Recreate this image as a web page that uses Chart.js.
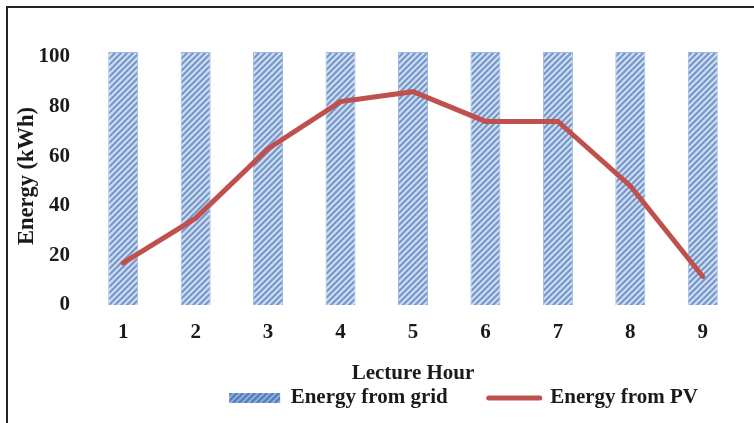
<!DOCTYPE html>
<html>
<head>
<meta charset="utf-8">
<script src="https://cdn.jsdelivr.net/npm/chart.js@4/dist/chart.umd.min.js"></script>
<style>
  html, body { margin: 0; padding: 0; background: #fff; overflow: hidden; }
  #wrap { position: relative; width: 754px; height: 423px; }
  #frame { position: absolute; left: 6px; top: 6px; width: 800px; height: 500px;
           border: 2px solid #232323; box-sizing: border-box; }
  #chart { position: absolute; left: 0; top: 0; }
</style>
</head>
<body>
<div id="wrap">
  <div id="frame"></div>
  <canvas id="chart" width="754" height="423"></canvas>
</div>
<script>
// Lecture hours along the x axis
const lectureHours = ['1', '2', '3', '4', '5', '6', '7', '8', '9'];
// Energy supplied by the grid in each hour (kWh)
const gridEnergy = [102, 102, 102, 102, 102, 102, 102, 102, 102];
// Energy produced by the PV array in each hour (kWh)
const pvEnergy = [17, 35, 63, 82, 86, 74, 74, 48, 11.5];
// Values labelled on the y axis
const yTickValues = [0, 20, 40, 60, 80, 100];

const serifBold = (size) => ({ family: '"Liberation Serif", "Times New Roman", serif', weight: 'bold', size, lineHeight: 1.2 });

// Diagonal hatch used to fill the grid bars
function makeHatch(bg, stripe, light) {
  const s = 6;
  const c = document.createElement('canvas');
  c.width = s; c.height = s;
  const g = c.getContext('2d');
  g.fillStyle = bg;
  g.fillRect(0, 0, s, s);
  g.strokeStyle = stripe;
  g.lineWidth = 1.6;
  g.beginPath();
  g.moveTo(-1, s + 1); g.lineTo(s + 1, -1);
  g.moveTo(-1, 1); g.lineTo(1, -1);
  g.moveTo(s - 1, s + 1); g.lineTo(s + 1, s - 1);
  g.stroke();
  g.strokeStyle = light;
  g.lineWidth = 1;
  g.beginPath();
  g.moveTo(-1, s / 2 + 1); g.lineTo(s / 2 + 1, -1);
  g.moveTo(s / 2 - 1, s + 1); g.lineTo(s + 1, s / 2 - 1);
  g.stroke();
  return g.createPattern(c, 'repeat');
}

const ctx = document.getElementById('chart').getContext('2d');
const barHatch = makeHatch('#b8cfeb', '#7291c5', '#dae7f6');
const legendHatch = makeHatch('#7fa3d6', '#4f76b8', '#93b3e0');

new Chart(ctx, {
  data: {
    labels: lectureHours,
    datasets: [
      {
        type: 'line',
        label: 'Energy from PV',
        data: pvEnergy,
        borderColor: '#c0504d',
        backgroundColor: '#c0504d',
        borderWidth: 5,
        borderCapStyle: 'round',
        borderJoinStyle: 'miter',
        pointRadius: 0,
        tension: 0,
        order: 0
      },
      {
        type: 'bar',
        label: 'Energy from grid',
        data: gridEnergy,
        backgroundColor: barHatch,
        borderColor: '#9db8df',
        borderWidth: 1,
        categoryPercentage: 1,
        barPercentage: 0.414,
        order: 1
      }
    ]
  },
  options: {
    responsive: false,
    animation: false,
    devicePixelRatio: 1,
    layout: { padding: { top: 47, right: 15, bottom: 4.5, left: 0 } },
    scales: {
      x: {
        type: 'category',
        offset: true,
        grid: { display: false, drawTicks: false },
        border: { display: false },
        ticks: { color: '#1a1a1a', font: serifBold(21), padding: 14.5 },
        title: {
          display: true,
          text: 'Lecture Hour',
          color: '#1a1a1a',
          font: serifBold(21),
          padding: { top: 18, bottom: -40 }
        },
        afterFit: (scale) => { scale.height = 41.5; }
      },
      y: {
        min: 0,
        max: 104,
        grid: { display: false, drawTicks: false },
        border: { display: false },
        ticks: { stepSize: 20, color: '#1a1a1a', font: serifBold(21), padding: 17 },
        afterBuildTicks: (scale) => {
          scale.ticks = yTickValues.map(v => ({ value: v }));
        },
        title: {
          display: true,
          text: 'Energy (kWh)',
          color: '#1a1a1a',
          font: serifBold(22.5),
          padding: { top: 14, bottom: 0 }
        },
        afterFit: (scale) => { scale.width = 87; }
      }
    },
    plugins: {
      tooltip: { enabled: false },
      legend: {
        position: 'bottom',
        align: 'end',
        reverse: true,
        labels: {
          color: '#1a1a1a',
          font: serifBold(21),
          usePointStyle: true,
          pointStyleWidth: 51,
          boxHeight: 10,
          padding: 41,
          generateLabels: (chart) => {
            const items = Chart.defaults.plugins.legend.labels.generateLabels(chart);
            return items.map(it => {
              const ds = chart.data.datasets[it.datasetIndex];
              if (ds.type === 'bar') {
                return Object.assign(it, { pointStyle: 'rect', fillStyle: legendHatch, lineWidth: 0, strokeStyle: 'transparent' });
              }
              return Object.assign(it, { pointStyle: 'line', lineWidth: 5, lineCap: 'round', strokeStyle: '#c0504d' });
            });
          }
        }
      }
    }
  }
});
</script>
</body>
</html>
